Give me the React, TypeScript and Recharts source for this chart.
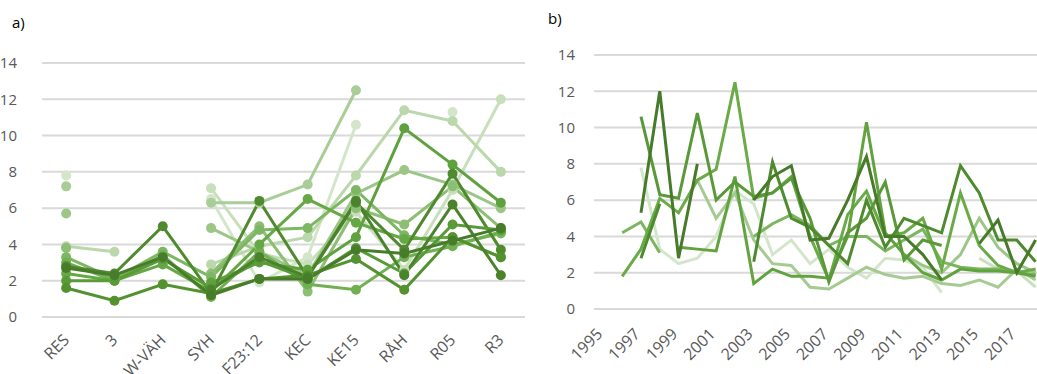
import React from "react";
import { CartesianGrid, Line, LineChart, XAxis, YAxis } from "recharts";

// panel a) categories and series
const sites = ["RES", "3", "W-VÄH", "SYH", "F23:12", "KEC", "KE15", "RÅH", "R05", "R3"];

const a1 = [7.8, null, null, 6.5, 1.9, 3.3, 10.6, null, 11.3, null];
const a2 = [null, null, null, 7.1, 3.5, 2.9, 5.8, 2.6, 7.0, 12.0];
const a3 = [3.9, 3.6, null, 2.9, 3.9, 4.4, 7.8, 11.4, 10.8, 8.0];
const a4 = [7.2, null, null, 6.3, 6.3, 7.3, 12.5, null, null, null];
const a5 = [5.7, null, null, 4.9, 3.6, 2.3, 6.8, 8.1, 7.3, 6.0];
const a6 = [3.8, null, null, 2.4, 5.0, 1.4, 6.0, 5.1, 7.2, 4.9];
const a7 = [3.3, 2.1, 3.6, 2.2, 4.8, 4.9, 7.0, 4.5, 4.0, 4.6];
const a8 = [3.0, 2.0, 3.4, 1.1, 3.6, 1.8, 1.5, 3.3, 3.9, 4.7];
const a9 = [2.4, 2.0, 2.9, 1.4, 4.0, 6.5, 5.2, 4.3, 4.4, 3.3];
const a10 = [null, null, null, 1.9, 3.0, 2.6, 4.4, 10.4, 8.4, 6.3];
const a11 = [2.8, 2.4, 5.0, 1.3, 6.4, 2.2, 6.3, 3.7, 7.9, 3.7];
const a12 = [2.0, 2.0, 3.2, 1.6, 3.1, 2.1, 3.8, 2.4, 5.1, 4.8];
const a13 = [1.6, 0.9, 1.8, 1.3, 2.1, 2.3, 3.2, 1.5, 4.4, 3.3];
const a14 = [null, null, null, 1.5, 3.3, 2.2, 6.4, 2.3, 6.2, 2.3];
const a15 = [2.7, 2.3, 3.3, 1.2, 2.1, 2.1, 3.7, 3.5, 4.2, 4.9];

// panel b) years and series
const years = [
  "1995", "1996", "1997", "1998", "1999", "2000", "2001", "2002", "2003", "2004", "2005", "2006",
  "2007", "2008", "2009", "2010", "2011", "2012", "2013", "2014", "2015", "2016", "2017", "2018"
];

const n = null;
const b1 = [n, n, 7.8, 3.3, 2.5, 2.8, 4.0, 6.5, 5.8, 3.0, 3.8, 2.5, 3.3, 2.3, 1.7, 2.8, 2.7, 2.3, 0.9, n, n, n, n, n];
const b2 = [n, n, n, n, n, 7.1, 5.0, 6.4, 3.8, 2.5, 2.4, 1.2, 1.1, 1.7, 2.3, 1.9, 1.7, 1.8, 1.4, 1.3, 1.6, 1.2, 2.2, 1.6];
const b3 = [n, n, n, n, n, n, n, n, n, n, n, n, n, n, n, n, n, n, n, n, 2.8, 2.2, 2.1, 1.2];
const b4 = [n, n, n, n, n, n, n, n, n, n, n, n, n, n, n, n, 3.0, 2.4, 2.0, 3.0, 5.0, 3.4, 2.5, 2.0];
const b5 = [n, 4.2, 4.8, 3.1, n, n, n, n, 4.0, 4.7, 5.2, 4.6, 3.5, 4.0, 4.0, 3.2, 3.8, 4.4, 2.6, 2.3, 2.2, 2.2, 2.0, 1.9];
const b6 = [n, 1.8, 3.3, 6.1, 5.3, 7.1, 7.7, 12.5, 6.1, 6.4, 7.3, 4.0, 1.6, 5.2, 6.5, 4.0, 4.2, 5.0, 2.2, 6.4, 3.5, 2.4, 2.0, 2.2];
const b7 = [n, n, n, n, 3.4, 3.3, 3.2, 7.3, 1.4, 2.2, 1.8, 1.8, 1.7, 4.0, 10.3, 4.2, 3.0, 2.0, 1.6, 2.2, 2.1, 2.1, 2.0, 1.8];
const b8 = [n, n, 10.6, 6.3, 6.1, 10.8, 6.0, 7.0, 6.2, 6.4, 7.2, 5.0, 1.5, 4.2, 5.0, 7.0, 2.7, 3.8, 3.5, n, n, n, n, n];
const b9 = [n, n, 2.8, 5.8, n, n, n, n, 2.6, 8.1, 5.0, 4.5, 3.5, 2.5, 6.0, 3.4, 5.0, 4.6, 4.2, 7.9, 6.4, 3.8, 3.8, 2.6];
const b10 = [n, n, 5.3, 12.0, 2.8, 8.0, n, n, 6.0, 7.3, 7.9, 3.8, 3.9, 6.0, 8.4, 4.0, 4.0, 3.0, 1.6, n, 3.6, 4.9, 2.0, 3.8];

const yTicks = [0, 2, 4, 6, 8, 10, 12, 14];

const seriesA = [
  { key: "a1", values: a1, color: "#d3e6ca" },
  { key: "a2", values: a2, color: "#c7dfbb" },
  { key: "a3", values: a3, color: "#bbd8ac" },
  { key: "a4", values: a4, color: "#a9cd97" },
  { key: "a5", values: a5, color: "#9bc686" },
  { key: "a6", values: a6, color: "#8cbe74" },
  { key: "a7", values: a7, color: "#7db763" },
  { key: "a8", values: a8, color: "#71b052" },
  { key: "a9", values: a9, color: "#67a846" },
  { key: "a10", values: a10, color: "#5fa13e" },
  { key: "a11", values: a11, color: "#4f8a2e" },
  { key: "a12", values: a12, color: "#599b39" },
  { key: "a13", values: a13, color: "#53922f" },
  { key: "a14", values: a14, color: "#4b832c" },
  { key: "a15", values: a15, color: "#477c2a" }
];

const seriesB = [
  { key: "b1", values: b1, color: "#d3e6ca" },
  { key: "b2", values: b2, color: "#a5cb92" },
  { key: "b3", values: b3, color: "#c9e0bd" },
  { key: "b4", values: b4, color: "#9cc788" },
  { key: "b5", values: b5, color: "#7ab65d" },
  { key: "b6", values: b6, color: "#6aab48" },
  { key: "b7", values: b7, color: "#62a33f" },
  { key: "b8", values: b8, color: "#5a9939" },
  { key: "b9", values: b9, color: "#4e8a2e" },
  { key: "b10", values: b10, color: "#477a29" }
];

const dataA = sites.map((site, i) => {
  const row: Record<string, string | number | null> = { site };
  seriesA.forEach((s) => (row[s.key] = s.values[i]));
  return row;
});

const dataB = years.map((year, i) => {
  const row: Record<string, string | number | null> = { year };
  seriesB.forEach((s) => (row[s.key] = s.values[i]));
  return row;
});

const font = "'Open Sans', sans-serif";
const labelColor = "#595959";

function RotatedTick(props: any) {
  const { x, y, payload, dx = 4, dy = 14 } = props;
  const tx = x + dx;
  const ty = y + dy;
  return (
    <text
      x={tx}
      y={ty}
      textAnchor="end"
      transform={`rotate(-45 ${tx} ${ty})`}
      fontSize={16}
      fontFamily={font}
      fill={labelColor}
    >
      {payload.value}
    </text>
  );
}

export default function App() {
  return (
    <div
      style={{
        position: "absolute",
        left: 0,
        top: 0,
        width: 1037,
        height: 374,
        overflow: "hidden",
        background: "#fff",
        fontFamily: font
      }}
    >
      <div style={{ position: "absolute", left: 12, top: 12, fontSize: 15, color: "#000" }}>a)</div>
      <div style={{ position: "absolute", left: 548, top: 8, fontSize: 15, color: "#000" }}>b)</div>

      <div style={{ position: "absolute", left: 0, top: 0 }}>
        <LineChart width={525} height={374} data={dataA} margin={{ top: 63, right: 0, left: 0, bottom: 27 }}>
          <CartesianGrid vertical={false} stroke="#d9d9d9" strokeWidth={2} />
          <XAxis
            dataKey="site"
            scale="band"
            axisLine={false}
            tickLine={false}
            interval={0}
            tick={<RotatedTick dx={4} dy={16} />}
          />
          <YAxis
            domain={[0, 14]}
            ticks={yTicks}
            width={42}
            axisLine={false}
            tickLine={false}
            tickMargin={19}
            tick={{ fontSize: 15, fill: labelColor, fontFamily: font }}
          />
          {seriesA.map((s) => (
            <Line
              key={s.key}
              dataKey={s.key}
              stroke={s.color}
              strokeWidth={3}
              dot={{ r: 5, fill: s.color, stroke: s.color, strokeWidth: 0 }}
              isAnimationActive={false}
            />
          ))}
        </LineChart>
      </div>

      <div style={{ position: "absolute", left: 520, top: 0 }}>
        <LineChart width={525} height={374} data={dataB} margin={{ top: 55, right: 0, left: 0, bottom: 35 }}>
          <CartesianGrid vertical={false} stroke="#d9d9d9" strokeWidth={2} />
          <XAxis
            dataKey="year"
            scale="band"
            axisLine={false}
            tickLine={false}
            interval={1}
            tick={<RotatedTick dx={0} dy={18} />}
          />
          <YAxis
            domain={[0, 14]}
            ticks={yTicks}
            width={74}
            axisLine={false}
            tickLine={false}
            tickMargin={13}
            tick={{ fontSize: 15, fill: labelColor, fontFamily: font }}
          />
          {seriesB.map((s) => (
            <Line
              key={s.key}
              dataKey={s.key}
              stroke={s.color}
              strokeWidth={3}
              dot={false}
              isAnimationActive={false}
            />
          ))}
        </LineChart>
      </div>
    </div>
  );
}
